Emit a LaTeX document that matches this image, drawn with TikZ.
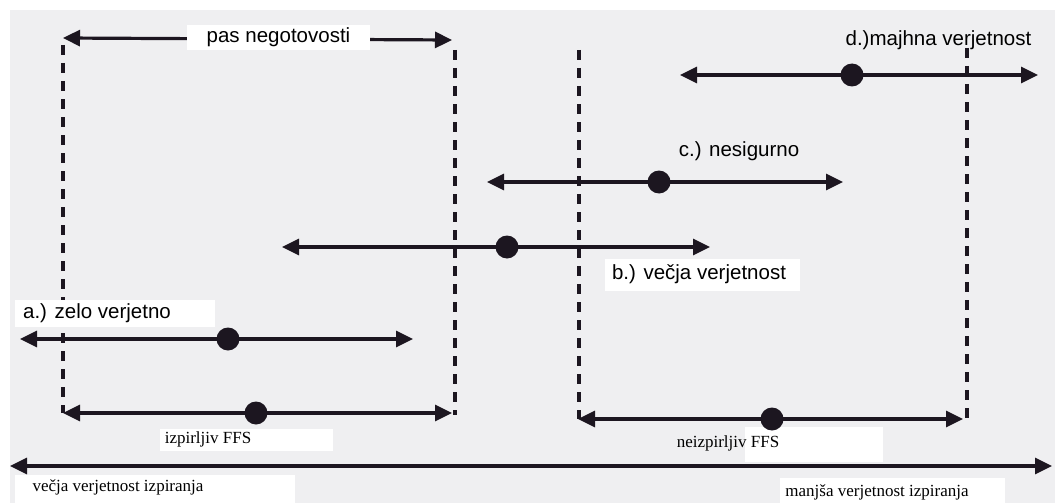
\documentclass[tikz,border=0pt]{standalone}
\usepackage{fontspec}
\setmainfont{Liberation Serif}
\newfontfamily\arialfont{Liberation Sans}
\usetikzlibrary{arrows.meta}
\definecolor{paper}{RGB}{239,239,241}
\definecolor{ink}{RGB}{28,22,32}
\begin{document}
\begin{tikzpicture}[x=1pt,y=-1pt,
  spanline/.style={line width=3.2pt,draw=ink,{Triangle[length=17pt,width=16pt]}-{Triangle[length=17pt,width=16pt]}},
  bound/.style={line width=3.6pt,draw=ink,dash pattern=on 10pt off 8pt},
  est/.style={circle,fill=ink,minimum size=23pt,inner sep=0pt},
  sanslabel/.style={font=\arialfont\fontsize{20.5}{24}\selectfont,inner sep=0pt,text=black},
  seriflabel/.style={font=\fontsize{17}{20}\selectfont,inner sep=0pt,text=black},
  labelbox/.style={fill=white,draw=none}]
\useasboundingbox (0,0) rectangle (1055,503);
% paper
\fill[white] (0,0) rectangle (1055,503);
\fill[paper] (10,10) rectangle (1055,503);

% white label patches
\fill[labelbox] (605,259) rectangle (800,291);
\fill[labelbox] (160,429) rectangle (333,451);
\fill[labelbox] (745,427) rectangle (883,462);
\fill[labelbox] (15,475) rectangle (295,503);
\fill[labelbox] (780,478) rectangle (1005,503);

% end points
\coordinate (uL) at (63,38);   \coordinate (uR) at (452,40);
\coordinate (dL) at (680,75);  \coordinate (dR) at (1038,75);
\coordinate (cL) at (487,182); \coordinate (cR) at (843,182);
\coordinate (bL) at (282,247); \coordinate (bR) at (710,247);
\coordinate (aL) at (20,339);  \coordinate (aR) at (413,339);
\coordinate (fL) at (63,413);  \coordinate (fR) at (452,413);
\coordinate (nL) at (578,419); \coordinate (nR) at (963,419);
\coordinate (xL) at (10,466);  \coordinate (xR) at (1052,466);

% dashed boundaries
\coordinate (b1t) at (63,45);   \coordinate (b1b) at (63,413);
\coordinate (b2t) at (455,50);  \coordinate (b2b) at (455,415);
\coordinate (b3t) at (579,50);  \coordinate (b3b) at (579,419);
\coordinate (b4t) at (967,48);  \coordinate (b4b) at (967,419);
\draw[bound] (b1t) -- (b1b);
\draw[bound] (b2t) -- (b2b);
\draw[bound] (b3t) -- (b3b);
\draw[bound] (b4t) -- (b4b);

% patch over the left boundary behind label a
\fill[labelbox] (15,300) rectangle (215,327);

% ranges
\draw[spanline] (uL) -- (uR);
\draw[spanline] (dL) -- (dR);
\draw[spanline] (cL) -- (cR);
\draw[spanline] (bL) -- (bR);
\draw[spanline] (aL) -- (aR);
\draw[spanline] (fL) -- (fR);
\draw[spanline] (nL) -- (nR);
\draw[spanline] (xL) -- (xR);

% estimates
\node[est] (dD) at (852,75) {};
\node[est] (cD) at (659,182) {};
\node[est] (bD) at (507,247) {};
\node[est] (aD) at (228,339) {};
\node[est] (fD) at (256,413) {};
\node[est] (nD) at (772,419) {};

% labels
\node[labelbox,sanslabel,minimum width=183pt,minimum height=25pt] (pas) at (278.5,37.5) {pas negotovosti};
\node[sanslabel] (dT) at (938.5,40) {d.)majhna verjetnost};
\node[sanslabel] (cT) at (739,151) {c.) nesigurno};
\node[sanslabel] (bT) at (699,274) {b.) večja verjetnost};
\node[sanslabel] (aT) at (97,313) {a.) zelo verjetno};
\node[seriflabel] (fT) at (208,439) {izpirljiv FFS};
\node[seriflabel] (nT) at (728,443) {neizpirljiv FFS};
\node[seriflabel] (xLT) at (118,487) {večja verjetnost izpiranja};
\node[seriflabel] (xRT) at (877,492) {manjša verjetnost izpiranja};
\end{tikzpicture}
\end{document}
